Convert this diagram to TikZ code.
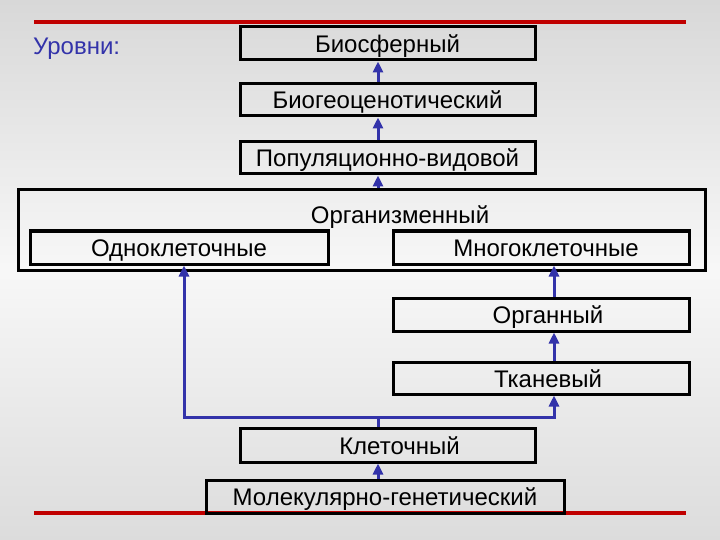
\documentclass[tikz,border=0pt]{standalone}
\usepackage{fontspec}
\setmainfont{Liberation Sans}
\usetikzlibrary{arrows.meta}
\definecolor{arrblue}{HTML}{3333AA}
\definecolor{redline}{HTML}{C00000}
\definecolor{bgtop}{HTML}{D8D8D8}
\definecolor{bgbot}{HTML}{DCDCDC}
\tikzset{
  lvl/.style={draw=black, line width=3pt, inner sep=0pt, minimum width=295pt, minimum height=33pt, text height=20pt, text depth=2pt, font=\fontsize{24}{28}\selectfont},
  arr/.style={draw=arrblue, line width=3pt, line join=miter, -{Triangle[length=11pt,width=10pt]}},
  conn/.style={draw=arrblue, line width=3pt},
  rl/.style={draw=redline, line width=3.2pt},
  txt/.style={font=\fontsize{24}{28}\selectfont, inner sep=0pt, text height=20pt, text depth=2pt}
}
\begin{document}
\begin{tikzpicture}[x=1pt,y=-1pt]
\useasboundingbox (0,0) rectangle (720,540);
\shade[top color=bgtop, bottom color=bgbot, middle color=white!97!black] (0,0) rectangle (720,540);
% red lines
\coordinate (rt1) at (34,22); \coordinate (rt2) at (686,22);
\coordinate (rb1) at (34,513); \coordinate (rb2) at (686,513);
\draw[rl] (rt1) -- (rt2);
\draw[rl] (rb1) -- (rb2);
% title
\node[txt, text=arrblue, anchor=west] (ttl) at (33,46) {Уровни:};
% boxes
\node[lvl] (bio) at (387.5,43.5) {Биосферный};
\node[lvl, minimum height=32pt] (biogeo) at (387.5,100) {Биогеоценотический};
\node[lvl, minimum height=32pt] (popul) at (387.5,158) {Популяционно-видовой};
\node[lvl, minimum width=687pt, minimum height=80pt] (org) at (361.5,230) {};
\node[txt] (orgt) at (400,215) {Организменный};
\node[lvl, minimum width=298pt] (odno) at (179,247.5) {Одноклеточные};
\node[lvl, minimum width=296pt] (mnogo) at (541,247.5) {\hspace*{10pt}Многоклеточные};
\node[lvl, minimum width=296pt] (organ) at (541,314.5) {\hspace*{14pt}Органный};
\node[lvl, minimum width=296pt, minimum height=32pt] (tkan) at (541,378) {\hspace*{14pt}Тканевый};
\node[lvl, minimum height=34pt] (klet) at (387.5,445) {\hspace*{24pt}Клеточный};
\node[lvl, minimum width=358pt] (molek) at (385,496.5) {Молекулярно-генетический};
% junctions
\coordinate (j) at (378,417);
\coordinate (jl) at (184,417);
\coordinate (jr) at (554,417);
% connectors
\draw[arr] (molek.north -| j) -- (klet.south -| j);
\draw[conn] (klet.north -| j) -- (j);
\draw[arr] (j) -- (jl) -- (jl |- odno.south);
\draw[arr] (j) -- (jr) -- (jr |- tkan.south);
\draw[arr] (tkan.north -| jr) -- (organ.south -| jr);
\draw[arr] (organ.north -| jr) -- (mnogo.south -| jr);
\draw[arr] (org.north -| j) -- (popul.south -| j);
\draw[arr] (popul.north -| j) -- (biogeo.south -| j);
\draw[arr] (biogeo.north -| j) -- (bio.south -| j);
\end{tikzpicture}
\end{document}
